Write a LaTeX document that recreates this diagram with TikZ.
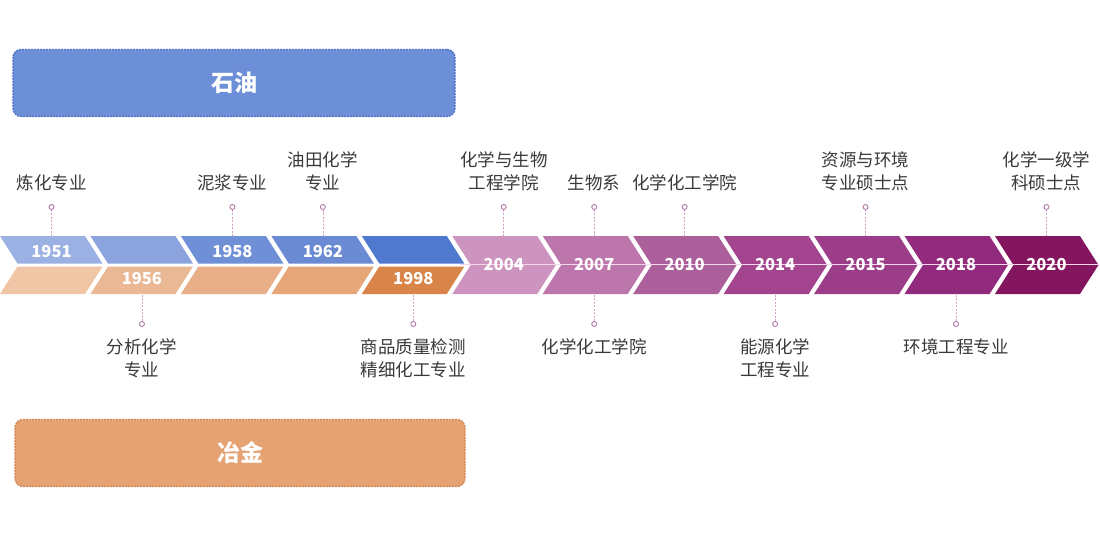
\documentclass[tikz,border=0pt]{standalone}
\usepackage{fontspec}
\setmainfont{Noto Sans CJK SC}
\definecolor{labelgray}{HTML}{3A3A3A}
\definecolor{pinc}{HTML}{B07AA6}
\definecolor{linec}{HTML}{CFA3C6}
\definecolor{bluebox}{HTML}{6C8FD8}
\definecolor{blueborder}{HTML}{4E70C4}
\definecolor{orangebox}{HTML}{E5A373}
\definecolor{orangeborder}{HTML}{D08550}
\definecolor{b0}{HTML}{9BB0E3}
\definecolor{b1}{HTML}{8CA4DD}
\definecolor{b2}{HTML}{6F8FD6}
\definecolor{b3}{HTML}{6A8AD4}
\definecolor{b4}{HTML}{4F78CF}
\definecolor{o0}{HTML}{F1C6A7}
\definecolor{o1}{HTML}{EBB896}
\definecolor{o2}{HTML}{E8AF89}
\definecolor{o3}{HTML}{E6A677}
\definecolor{o4}{HTML}{D9854A}
\definecolor{p5}{HTML}{CC94BF}
\definecolor{p6}{HTML}{BD76AC}
\definecolor{p7}{HTML}{AB5F9B}
\definecolor{p8}{HTML}{A3448E}
\definecolor{p9}{HTML}{9C3D89}
\definecolor{p10}{HTML}{922B7D}
\definecolor{p11}{HTML}{84165F}
\definecolor{tline}{HTML}{F3D6EA}
\begin{document}
\begin{tikzpicture}[x=1pt,y=-1pt,
  yr/.style={font=\bfseries\fontsize{16.5}{16.5}\selectfont, text=white, inner sep=0pt},
  lbl/.style={font=\fontsize{17.5}{23}\selectfont, text=labelgray, align=center, inner sep=0pt},
  pin/.style={circle, draw=pinc, fill=white, line width=0.9pt, minimum size=5pt, inner sep=0pt},
  conn/.style={draw=linec, dash pattern=on 2pt off 1.5pt, line width=0.7pt},
  catbox/.style={rounded corners=8pt, dash pattern=on 2pt off 1pt, line width=1.3pt,
    minimum width=442pt, minimum height=67pt, text=white,
    font=\bfseries\fontsize{23}{23}\selectfont}]
\useasboundingbox (0,0) rectangle (1100,536);
\fill[white] (0,0) rectangle (1100,536);

% category boxes
\node[catbox, draw=blueborder, fill=bluebox] (oil) at (234,83) {石油};
\node[catbox, draw=orangeborder, fill=orangebox, minimum width=450pt] (metal) at (240,453) {冶金};

% split chevrons (1951-1998)
\foreach \i/\yt/\yb in {0/1951/,1//1956,2/1958/,3/1962/,4//1998}{
  \pgfmathsetmacro\xo{90.45*\i}
  \fill[b\i] (\xo,236) -- ++(85,0) -- ++(17.5,27.5) -- ++(-85,0) -- cycle;
  \fill[o\i] (\xo+17.5,266.5) -- ++(85,0) -- ++(-17.5,27.5) -- ++(-85,0) -- cycle;
  \node[yr] (yt\i) at (\xo+51.5,251.5) {\yt};
  \node[yr] (yb\i) at (\xo+51.5,279) {\yb};
  \coordinate (t\i) at (\xo+51.5,236);
  \coordinate (b\i) at (\xo+51.5,294);
}
% full chevrons (2004-2020)
\foreach \i/\y in {5/2004,6/2007,7/2010,8/2014,9/2015,10/2018,11/2020}{
  \pgfmathsetmacro\xo{90.45*\i}
  \fill[p\i] (\xo,236) -- ++(85,0) -- ++(18.5,29) -- ++(-18.5,29) -- ++(-85,0) -- ++(18.5,-29) -- cycle;
  \coordinate (t\i) at (\xo+51.5,236);
  \coordinate (b\i) at (\xo+51.5,294);
}
\coordinate (ls) at (460,264.5);
\coordinate (le) at (1100,264.5);
\draw[tline, line width=1.2pt] (ls) -- (le);
\foreach \i/\y in {5/2004,6/2007,7/2010,8/2014,9/2015,10/2018,11/2020}{
  \pgfmathsetmacro\xo{90.45*\i}
  \node[yr] (yr\i) at (\xo+51.5,265) {\y};
}

% top labels
\foreach \i/\txt/\ly in {0/炼化专业/183, 2/泥浆专业/183, 3/{油田化学\\专业}/171.5, 5/{化学与生物\\工程学院}/171.5, 6/生物系/183, 7/化学化工学院/183, 9/{资源与环境\\专业硕士点}/171.5, 11/{化学一级学\\科硕士点}/171.5}{
  \pgfmathsetmacro\xc{90.45*\i+51.5}
  \node[pin] (d\i) at (\xc,207) {};
  \node[lbl] (l\i) at (\xc,\ly) {\txt};
  \draw[conn] (d\i) -- (t\i);
}
% bottom labels
\foreach \i/\txt/\ly in {1/{分析化学\\专业}/358, 4/{商品质量检测\\精细化工专业}/358, 6/化学化工学院/347, 8/{能源化学\\工程专业}/358, 10/环境工程专业/347}{
  \pgfmathsetmacro\xc{90.45*\i+51.5}
  \node[pin] (e\i) at (\xc,324) {};
  \node[lbl] (m\i) at (\xc,\ly) {\txt};
  \draw[conn] (e\i) -- (b\i);
}
\end{tikzpicture}
\end{document}
